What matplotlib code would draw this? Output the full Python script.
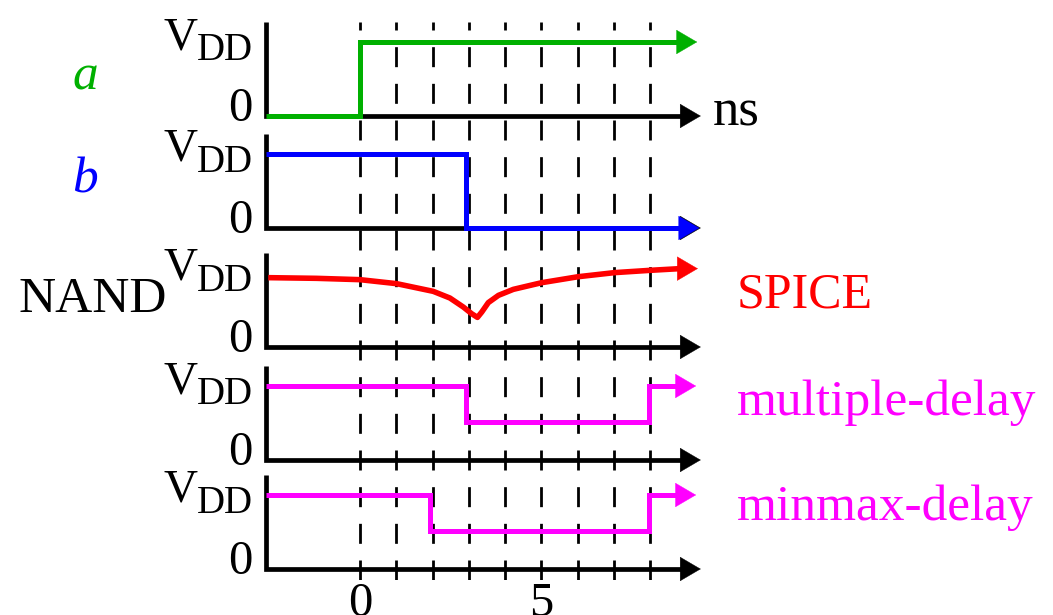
import matplotlib
matplotlib.use('Agg')
import matplotlib.pyplot as plt

plt.rcParams['font.family'] = ['Liberation Serif', 'DejaVu Serif']
plt.rcParams['lines.scale_dashes'] = False

# time axis (ns)
t_start = -2.58
grid_ns = list(range(9))
tick_ns = [0, 5]
tick_labels = ['0', '5']

# input a, input b
a_t = [t_start, 0.0, 8.8]
a_v = [0, 1, 1]
b_t = [t_start, 2.93, 8.8]
b_v = [1, 0, 0]

# NAND output, SPICE simulation
spice_t = [-2.53, -1.2, 0.0, 1.01, 2.02, 2.48, 2.85, 3.08, 3.24,
           3.36, 3.54, 3.82, 4.23, 5.01, 6.02, 7.02, 8.0, 8.83]
spice_v = [0.937, 0.928, 0.91, 0.856, 0.752, 0.662, 0.54, 0.45, 0.40,
           0.473, 0.6, 0.698, 0.779, 0.869, 0.95, 1.005, 1.036, 1.059]

# NAND output, multiple-delay and minmax-delay models
multi_t = [t_start, 2.93, 7.96, 8.72]
multi_v = [1, 0.52, 1, 1]
minmax_t = [t_start, 1.94, 7.96, 8.72]
minmax_v = [1, 0.52, 1, 1]

W, H = 1053, 615
fig = plt.figure(figsize=(W / 100, H / 100), dpi=100)

XMIN, XMAX = -2.7, 9.6
NS_PX = 36.25
ZERO_PX = 360
x_left = ZERO_PX + NS_PX * XMIN
x_right = ZERO_PX + NS_PX * XMAX
AX_W = (x_right - x_left) / W
PANEL_H = 94
VDD_H = 74
YTOP = PANEL_H / VDD_H

# dashed time grid behind everything
grid = fig.add_axes([x_left / W, 1 - 580 / H, AX_W, (580 - 22) / H])
grid.set_xlim(XMIN, XMAX)
grid.set_ylim(0, 1)
grid.vlines(grid_ns, 0, 1, colors='black', linewidth=2.0,
            linestyles=[(0, (14.4, 12.0))])
grid.axis('off')


def arrow(ax, x0, x1, y, color):
    ax.annotate('', xy=(x1, y), xytext=(x0 - 0.5, y),
                arrowprops=dict(arrowstyle='-|>,head_length=1.45,head_width=0.85',
                                mutation_scale=10, color=color, lw=0.3,
                                shrinkA=0, shrinkB=0),
                annotation_clip=False)


def panel(axis_px, last=False):
    ax = fig.add_axes([x_left / W, 1 - axis_px / H, AX_W, PANEL_H / H])
    ax.set_xlim(XMIN, XMAX)
    ax.set_ylim(0, YTOP)
    ax.patch.set_visible(False)
    for s in ax.spines.values():
        s.set_visible(False)
    ax.set_yticks([])
    if last:
        ax.set_xticks(tick_ns, tick_labels)
        ax.tick_params(axis='x', length=0, pad=9, labelsize=35)
    else:
        ax.set_xticks([])
    ax.plot([t_start, t_start, 8.88], [YTOP, 0, 0], color='black', lw=3.4,
            solid_joinstyle='miter', solid_capstyle='butt', clip_on=False)
    arrow(ax, 8.88, 9.4, 0, 'black')
    # level labels
    fig.text(197 / W, 1 - (axis_px - 67) / H, 'V', fontsize=34, ha='right', va='baseline')
    fig.text(253 / W, 1 - (axis_px - 56) / H, 'DD', fontsize=28, ha='right', va='baseline')
    fig.text(252 / W, 1 - (axis_px + 5) / H, '0', fontsize=35, ha='right', va='baseline')
    return ax


def steps(ax, t, v, color, tip):
    ax.plot(t, v, drawstyle='steps-post', color=color, lw=3.6,
            solid_joinstyle='miter', solid_capstyle='butt', clip_on=False, zorder=3)
    arrow(ax, t[-1], tip, v[-1], color)


green, blue, red, magenta = '#00B000', '#0000FF', '#FF0000', '#FF00FF'

ax1 = panel(116)
steps(ax1, a_t, a_v, green, 9.3)
ax2 = panel(228)
steps(ax2, b_t, b_v, blue, 9.36)
ax3 = panel(347)
ax3.plot(spice_t, spice_v, color=red, lw=4.0, solid_capstyle='butt',
         solid_joinstyle='round', clip_on=False, zorder=3)
arrow(ax3, spice_t[-1], 9.32, spice_v[-1], red)
ax4 = panel(460)
steps(ax4, multi_t, multi_v, magenta, 9.27)
ax5 = panel(569, last=True)
steps(ax5, minmax_t, minmax_v, magenta, 9.27)

# names
fig.text(85 / W, 1 - 90 / H, 'a', fontsize=37, style='italic', color=green,
         ha='center', va='baseline')
fig.text(85 / W, 1 - 192 / H, 'b', fontsize=37, style='italic', color=blue,
         ha='center', va='baseline')
fig.text(18 / W, 1 - 312 / H, 'NAND', fontsize=37, ha='left', va='baseline')
fig.text(713 / W, 1 - 125 / H, 'ns', fontsize=38, ha='left', va='baseline')
fig.text(737 / W, 1 - 307 / H, 'SPICE', fontsize=36, color=red, ha='left', va='baseline')
fig.text(737 / W, 1 - 415 / H, 'multiple-delay', fontsize=37, color=magenta,
         ha='left', va='baseline')
fig.text(737 / W, 1 - 520 / H, 'minmax-delay', fontsize=37, color=magenta,
         ha='left', va='baseline')

fig.savefig('out.png', dpi=100)
